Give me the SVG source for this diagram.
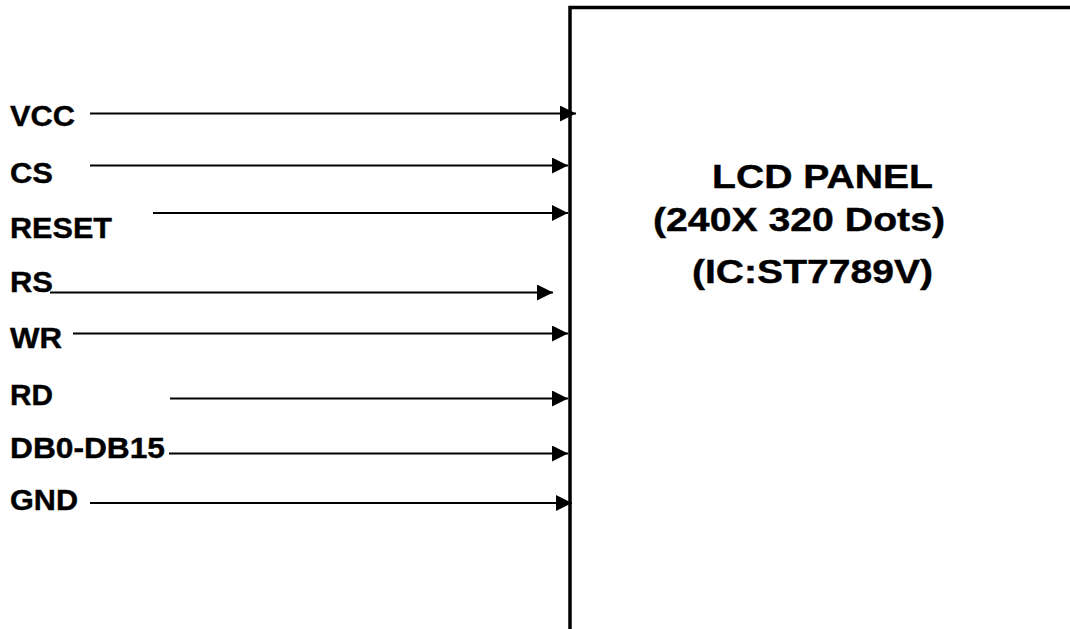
<svg xmlns="http://www.w3.org/2000/svg" width="1070" height="629" viewBox="0 0 1070 629">
<style>
.lbl{font-family:"Liberation Sans",Arial,sans-serif;font-weight:bold;font-size:29px;fill:#000;stroke:#000;stroke-width:0.4}
.pt{font-family:"Liberation Sans",Arial,sans-serif;font-weight:bold;font-size:33px;fill:#000;stroke:#000;stroke-width:0.4}
.w{stroke:#000;stroke-width:2;fill:none;marker-end:url(#ah)}
</style>
<defs>
<marker id="ah" markerUnits="userSpaceOnUse" markerWidth="18" markerHeight="18" refX="16" refY="8" orient="auto">
<path d="M0,0 L16,8 L0,16 Z" fill="#000"/>
</marker>
</defs>
<rect width="1070" height="629" fill="#fff"/>
<g id="panel">
<path d="M570,629 L570,7.5 L1070,7.5" stroke="#000" stroke-width="3.5" fill="none"/>
<text class="pt" x="712" y="188" textLength="221" lengthAdjust="spacingAndGlyphs">LCD PANEL</text>
<text class="pt" x="653" y="231" textLength="292" lengthAdjust="spacingAndGlyphs">(240X 320 Dots)</text>
<text class="pt" x="692" y="283" textLength="241" lengthAdjust="spacingAndGlyphs">(IC:ST7789V)</text>
</g>
<g id="labels">
<text id="vcc" class="lbl" x="10" y="126" textLength="65" lengthAdjust="spacingAndGlyphs">VCC</text>
<text id="cs" class="lbl" x="10" y="183" textLength="43" lengthAdjust="spacingAndGlyphs">CS</text>
<text id="reset" class="lbl" x="10" y="238" textLength="102" lengthAdjust="spacingAndGlyphs">RESET</text>
<text id="rs" class="lbl" x="10" y="292" textLength="43" lengthAdjust="spacingAndGlyphs">RS</text>
<text id="wr" class="lbl" x="10" y="348" textLength="52" lengthAdjust="spacingAndGlyphs">WR</text>
<text id="rd" class="lbl" x="10" y="405" textLength="43" lengthAdjust="spacingAndGlyphs">RD</text>
<text id="db" class="lbl" x="10" y="458" textLength="155" lengthAdjust="spacingAndGlyphs">DB0-DB15</text>
<text id="gnd" class="lbl" x="10" y="510" textLength="68" lengthAdjust="spacingAndGlyphs">GND</text>
</g>
<g id="connectors">
<line class="w" x1="90" y1="113.5" x2="576" y2="113.5"/>
<line class="w" x1="90" y1="165.5" x2="568" y2="165.5"/>
<line class="w" x1="153" y1="213" x2="568" y2="213"/>
<line class="w" x1="50" y1="292.5" x2="553" y2="292.5"/>
<line class="w" x1="73" y1="333.5" x2="568" y2="333.5"/>
<line class="w" x1="170" y1="398.5" x2="568" y2="398.5"/>
<line class="w" x1="169" y1="453.5" x2="568" y2="453.5"/>
<line class="w" x1="90" y1="503" x2="572" y2="503"/>
</g>
</svg>
